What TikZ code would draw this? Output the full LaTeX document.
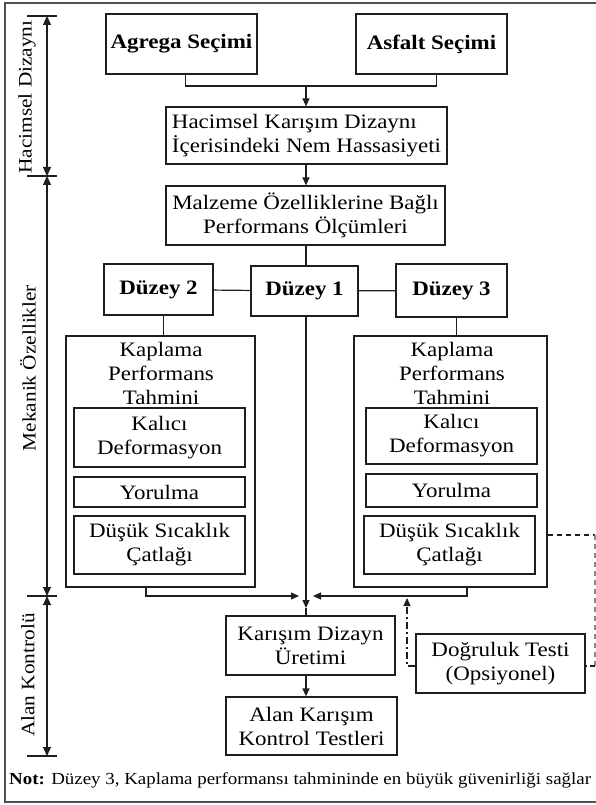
\documentclass[tikz,border=0pt]{standalone}
\usepackage{fontspec}
\setmainfont{Liberation Serif}[FakeStretch=1.12]
\usetikzlibrary{arrows.meta}
\definecolor{ln}{HTML}{1E1E1E}
\definecolor{fr}{HTML}{505050}
\definecolor{dg}{HTML}{8A8A8A}
\begin{document}
\begin{tikzpicture}[x=1pt,y=-1pt,
  box/.style={draw=ln, line width=1.2pt, inner sep=0pt, align=center, font=\fontsize{20.5}{24}\selectfont},
  bbox/.style={box, font=\fontsize{20.5}{24}\selectfont\bfseries},
  lbl/.style={inner sep=0pt, align=center, font=\fontsize{20.5}{24}\selectfont},
  side/.style={inner sep=0pt, rotate=90, font=\fontsize{19}{22}\selectfont},
  conn/.style={draw=ln, line width=1.2pt},
  arr/.style={conn, -{Triangle[width=7pt,length=8pt]}},
  barr/.style={conn, {Triangle[width=8pt,length=9pt]}-{Triangle[width=8pt,length=9pt]}},
]
\useasboundingbox (0,0) rectangle (596,805);
\fill[white] (0,0) rectangle (596,805);
\draw[fr, line width=1.6pt] (5,3) rectangle (602,802);

% scale bar
\coordinate (t0) at (47,16);
\coordinate (t1) at (47,176);
\coordinate (t2) at (47,596);
\coordinate (t3) at (47,756);
\foreach \t in {t0,t1,t2,t3}{\draw[conn] ([xshift=-20pt]\t) -- ([xshift=10pt]\t);}
\draw[barr] (t0) -- (t1);
\draw[barr] (t1) -- (t2);
\draw[barr] (t2) -- (t3);
\node[side] (lh) at (27,97) {Hacimsel Dizaynı};
\node[side] (lm) at (28,368) {Mekanik Özellikler};
\node[side] (la) at (28,675) {Alan Kontrolü};

% boxes
\node[bbox, minimum width=151pt, minimum height=60pt] (ag) at (181.5,44) {Agrega Seçimi};
\node[bbox, minimum width=151pt, minimum height=60pt] (as) at (431.5,44) {Asfalt Seçimi};
\node[box, align=left, minimum width=281pt, minimum height=57pt] (hac) at (306.5,135.5) {Hacimsel Karışım Dizaynı\\İçerisindeki Nem Hassasiyeti};
\node[box, minimum width=279pt, minimum height=59pt] (mal) at (305.5,215.5) {Malzeme Özelliklerine Bağlı\\Performans Ölçümleri};
\node[bbox, minimum width=109pt, minimum height=51pt] (d2) at (158.5,289.5) {Düzey 2};
\node[bbox, minimum width=107pt, minimum height=50pt] (d1) at (304.5,291) {Düzey 1};
\node[bbox, minimum width=111pt, minimum height=53pt] (d3) at (451.5,290.5) {Düzey 3};

\node[box, minimum width=189pt, minimum height=251pt] (kL) at (160.5,461.5) {};
\node[box, minimum width=193pt, minimum height=251pt] (kR) at (450.5,461.5) {};
\node[lbl] (tL) at (161,373) {Kaplama\\Performans\\Tahmini};
\node[lbl] (tR) at (452,373) {Kaplama\\Performans\\Tahmini};

\node[box, minimum width=171pt, minimum height=59pt] (L1) at (159.5,437.5) {Kalıcı\\Deformasyon};
\node[box, minimum width=171pt, minimum height=30pt] (L2) at (159.5,492) {Yorulma};
\node[box, minimum width=171pt, minimum height=58pt] (L3) at (159.5,545) {Düşük Sıcaklık\\Çatlağı};
\node[box, minimum width=171pt, minimum height=56pt] (R1) at (451.5,436) {Kalıcı\\Deformasyon};
\node[box, minimum width=171pt, minimum height=33pt] (R2) at (451.5,490.5) {Yorulma};
\node[box, minimum width=171pt, minimum height=58pt] (R3) at (449.5,545) {Düşük Sıcaklık\\Çatlağı};

\node[box, minimum width=169pt, minimum height=59pt] (kar) at (310.5,645.5) {Karışım Dizayn\\Üretimi};
\node[box, minimum width=171pt, minimum height=58pt] (alan) at (311.5,726) {Alan Karışım\\Kontrol Testleri};
\node[box, minimum width=169pt, minimum height=59pt] (dog) at (500.5,663.5) {Doğruluk Testi\\(Opsiyonel)};

\node[anchor=west, inner sep=0pt, font=\fontsize{16.9}{18}\selectfont] (note) at (9,780) {\textbf{Not:} Düzey 3, Kaplama performansı tahmininde en büyük güvenirliği sağlar};

% connectors
\coordinate (j1) at (306,86);
\draw[conn] ([xshift=4pt]ag.south) |- (j1);
\draw[conn] ([xshift=5pt]as.south) |- (j1);
\draw[arr] (j1) -- (j1 |- hac.north);
\draw[arr] (hac.south -| j1) -- (mal.north -| j1);
\draw[conn] (mal.south -| j1) -- (d1.north -| j1);
\draw[conn] (d2) -- (d1);
\draw[conn] (d1) -- (d3);
\draw[conn] ([xshift=5pt]d2.south) -- ([xshift=5pt]d2.south |- kL.north);
\draw[conn] ([xshift=5pt]d3.south) -- ([xshift=5pt]d3.south |- kR.north);

\coordinate (jn) at (306,596);
\draw[arr] ([xshift=-14.5pt]kL.south) |- ([xshift=-7pt]jn);
\draw[arr] ([xshift=16.5pt]kR.south) |- ([xshift=7pt]jn);
\draw[arr] (d1.south -| jn) -- ([yshift=-12pt]jn);
\draw[conn] ([yshift=-12pt]jn) -- (jn |- kar.north);
\draw[arr] (kar.south -| jn) -- (alan.north -| jn);

\coordinate (up) at (407,598);
\draw[arr, dash pattern=on 7pt off 3pt on 2pt off 3pt] ([yshift=-2.5pt]dog.west) -| (up);

\coordinate (rc1) at (595,535);
\coordinate (rc2) at (595,666);
\draw[conn, dash pattern=on 5pt off 4pt] (kR.east |- rc1) -- (rc1);
\draw[dg, line width=1.2pt, dash pattern=on 5pt off 4pt] (rc1) -- (rc2);
\draw[conn, dash pattern=on 5pt off 4pt] (rc2) -- (rc2 -| dog.east);
\end{tikzpicture}
\end{document}
